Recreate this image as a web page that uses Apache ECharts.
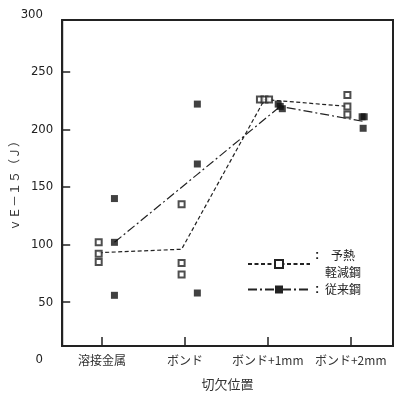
<!DOCTYPE html>
<html>
<head>
<meta charset="utf-8">
<script src="https://cdn.jsdelivr.net/npm/echarts@6/dist/echarts.min.js"></script>
<style>
  html, body { margin: 0; background: #fff; }
  #chart { width: 400px; height: 399px; }
</style>
</head>
<body>
<div id="chart"></div>
<script>
// 切欠位置
const categories = ['溶接金属', 'ボンド', 'ボンド+1mm', 'ボンド+2mm']
// y軸 目盛
const yTicks = [50, 100, 150, 200, 250]
const yOuterLabels = [0, 300]
// 予熱軽減鋼 (□)
const openValues = [[102, 92, 85], [135, 84, 74], [226, 226, 226], [230, 220, 213]]
const openMeans = [93, 96, 226, 220]
// 従来鋼 (■)
const solidValues = [[140, 102, 56], [222, 170, 58], [222, 220, 218], [211, 211, 201]]
const solidMeans = [102, 161, 220, 207]

const ink = '#222'
const jpFont = "'Noto Sans CJK JP', sans-serif"
const numFont = "'Liberation Sans Narrow', 'DejaVu Sans Condensed', 'Roboto', sans-serif"

// 同じカテゴリ内の近い値を横に並べる
function place(groups, base, step) {
  const pts = []
  groups.forEach((vals, i) => {
    vals.forEach((v, j) => {
      const close = vals.map((w, k) => k).filter(k => Math.abs(vals[k] - v) <= 5)
      const n = close.length
      const idx = close.indexOf(j)
      pts.push([i + base + (idx - (n - 1) / 2) * step, v])
    })
  })
  return pts
}

const openBase = -0.04
const solidBase = 0.15

const option = {
  animation: false,
  grid: { left: 52, right: 7, top: 20, bottom: 53, show: true, borderColor: ink, borderWidth: 2 },
  xAxis: {
    type: 'value',
    min: -0.48,
    max: 3.51,
    name: '切欠位置',
    nameLocation: 'middle',
    nameGap: 32,
    nameTextStyle: { fontFamily: jpFont, fontSize: 13, color: '#333' },
    splitLine: { show: false },
    axisLine: { onZero: false, lineStyle: { color: ink, width: 2 } },
    axisTick: { inside: true, length: 9, customValues: [0, 1, 2, 3], lineStyle: { color: ink, width: 1.5 } },
    axisLabel: {
      customValues: [0, 1, 2, 3],
      formatter: v => categories[Math.round(v)],
      fontFamily: jpFont,
      fontSize: 12,
      color: '#333',
      margin: 8
    }
  },
  yAxis: {
    type: 'value',
    min: 12,
    max: 295,
    name: 'ｖＥ－１５（Ｊ）',
    nameLocation: 'middle',
    nameGap: 33,
    nameTextStyle: { fontFamily: jpFont, fontSize: 12, color: '#333' },
    splitLine: { show: false },
    axisLine: { onZero: false, lineStyle: { color: ink, width: 2 } },
    axisTick: { inside: true, length: 8, customValues: yTicks, lineStyle: { color: ink, width: 1.5 } },
    axisLabel: { customValues: yTicks, fontFamily: numFont, fontSize: 13, color: '#222', margin: 9 }
  },
  legend: {
    data: ['予熱軽減鋼', '従来鋼'],
    orient: 'vertical',
    left: 242,
    top: 244,
    itemWidth: 62,
    itemHeight: 10,
    itemGap: 4,
    formatter: name => name === '予熱軽減鋼'
      ? '{c|:}{t|予熱}\n{c| }{t|軽減鋼}'
      : '{c|:}{t|従来鋼}',
    textStyle: {
      color: ink,
      rich: {
        c: { width: 8, fontSize: 13, fontWeight: 'bold', color: ink },
        t: { width: 40, align: 'center', fontSize: 12, lineHeight: 17, fontFamily: jpFont, color: ink }
      }
    }
  },
  series: [
    {
      name: '予熱軽減鋼',
      type: 'line',
      symbol: 'emptyRect',
      showSymbol: false,
      color: ink,
      lineStyle: { color: ink, width: 1.2, type: [4, 2.5] },
      data: openMeans.map((v, i) => [i + openBase, v]),
      z: 2
    },
    {
      name: '従来鋼',
      type: 'line',
      symbol: 'rect',
      showSymbol: false,
      color: ink,
      lineStyle: { color: ink, width: 1.2, type: [9, 3, 2, 3] },
      data: solidMeans.map((v, i) => [i + solidBase, v]),
      z: 2
    },
    {
      name: '予熱軽減鋼',
      type: 'scatter',
      symbol: 'emptyRect',
      symbolSize: 6,
      itemStyle: { color: ink, borderWidth: 1.2 },
      data: place(openValues, openBase, 0.055),
      z: 3
    },
    {
      name: '従来鋼',
      type: 'scatter',
      symbol: 'rect',
      symbolSize: 7,
      itemStyle: { color: '#111' },
      data: place(solidValues, solidBase, 0.025),
      z: 3
    }
  ]
}

const chart = echarts.init(document.getElementById('chart'))
chart.setOption(option)

// 枠の外にある 0 と 300 の目盛ラベル
chart.setOption({
  graphic: yOuterLabels.map(v => ({
    type: 'text',
    x: 43,
    y: chart.convertToPixel({ yAxisIndex: 0 }, v),
    style: {
      text: String(v),
      align: 'right',
      verticalAlign: 'middle',
      fontFamily: numFont,
      fontSize: 13,
      fill: '#222'
    }
  }))
})
</script>
</body>
</html>
